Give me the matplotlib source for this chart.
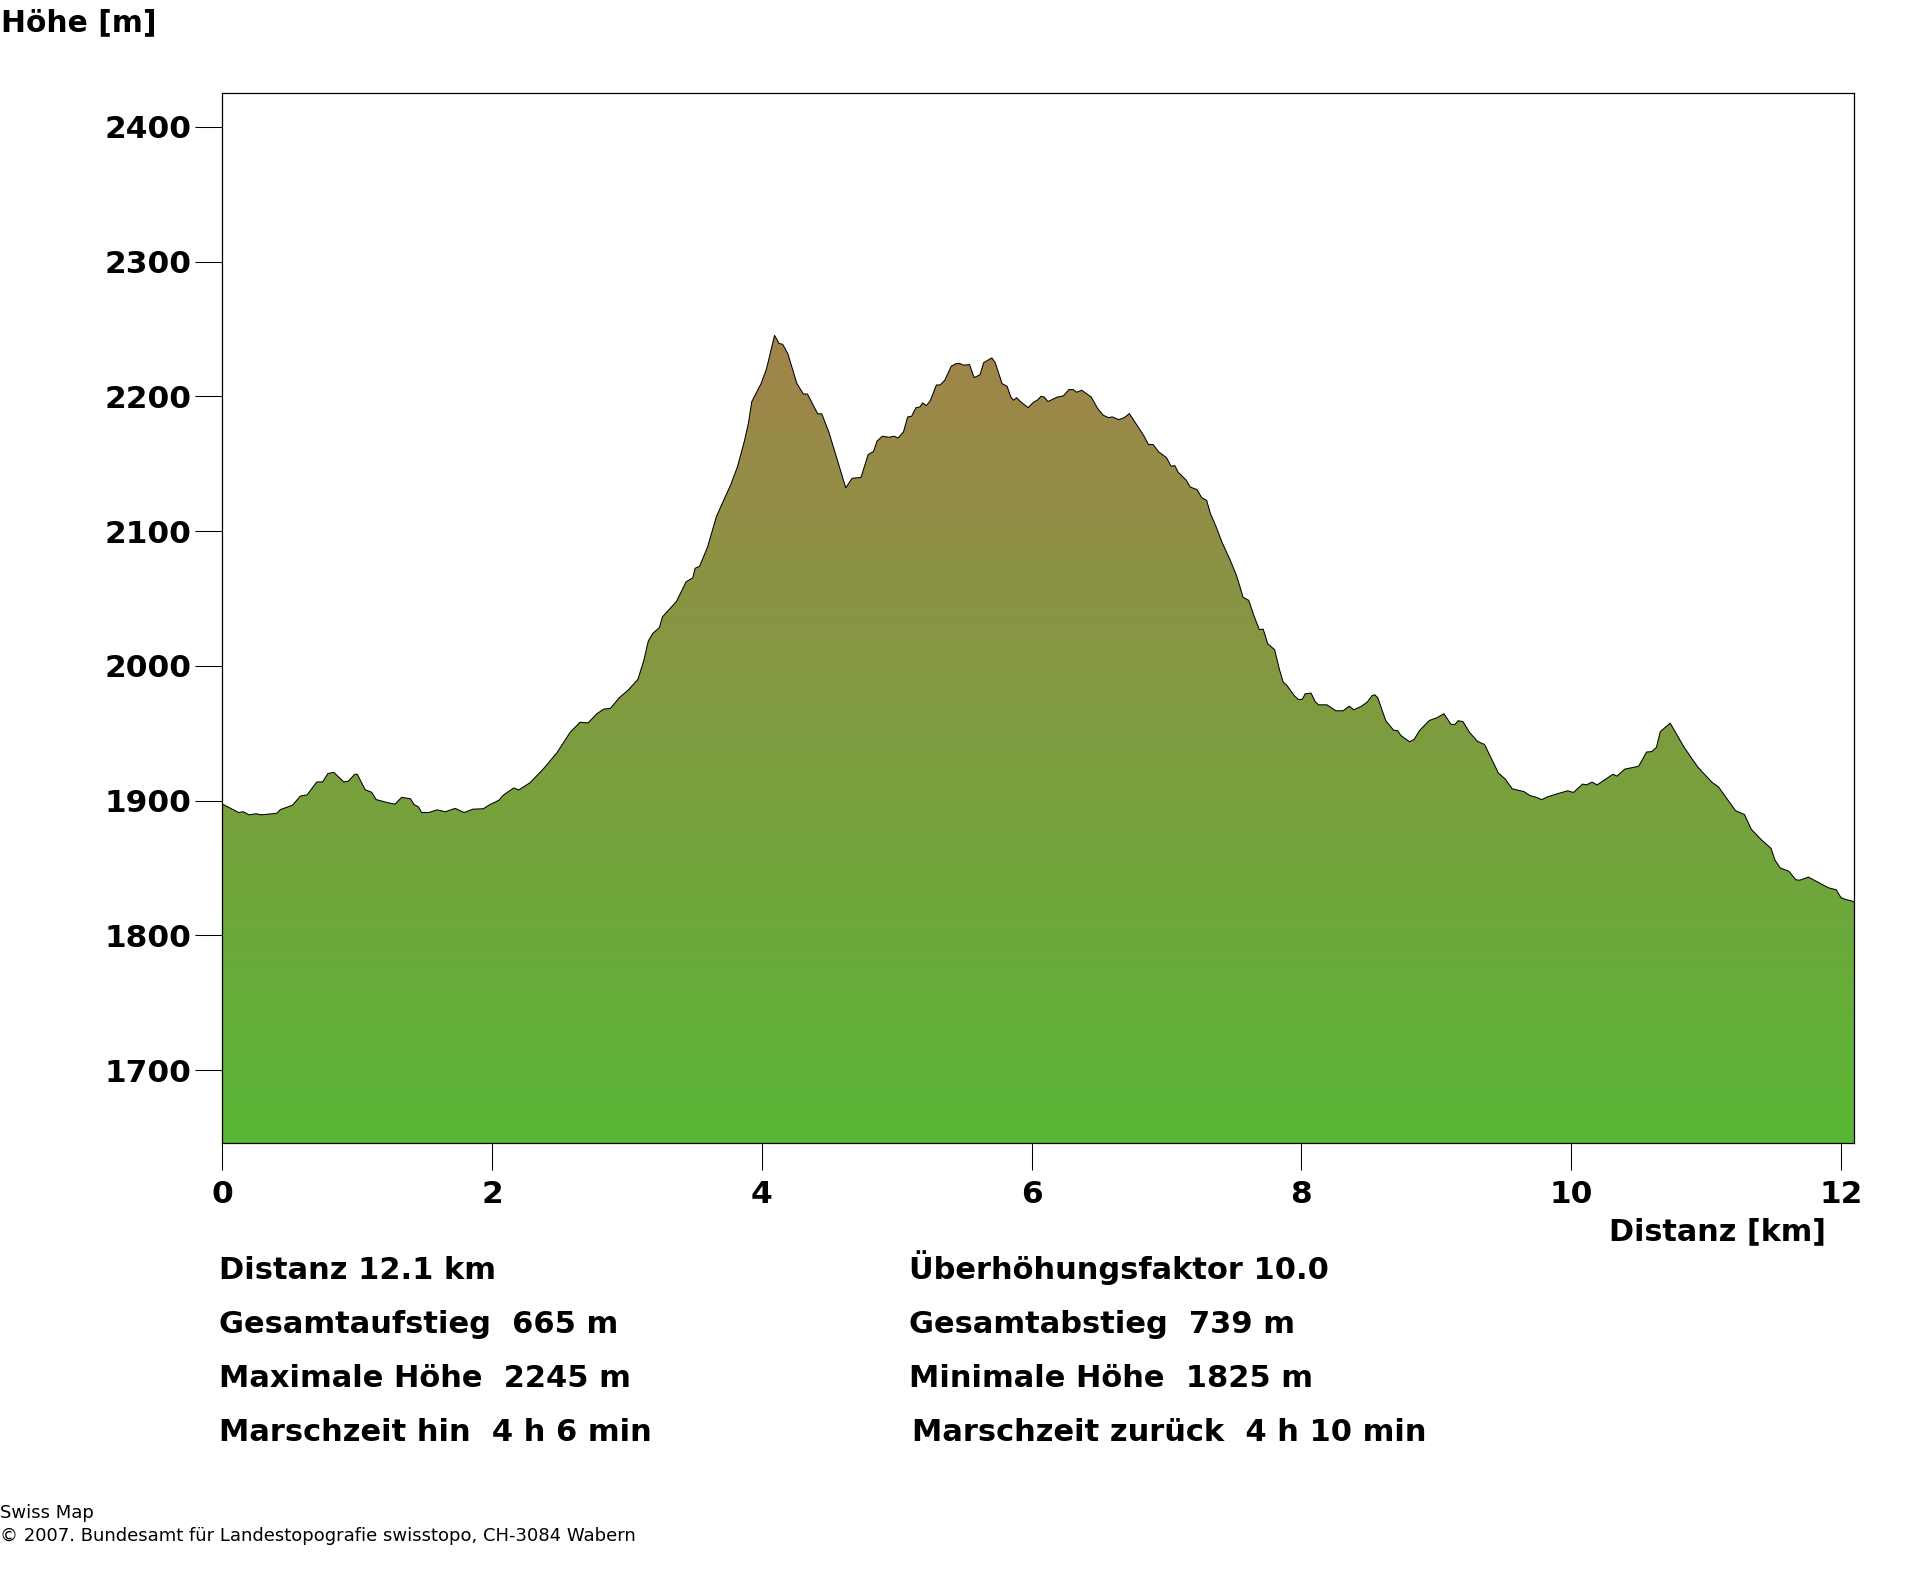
import matplotlib
matplotlib.use("Agg")
import matplotlib.pyplot as plt
import numpy as np
from matplotlib.colors import LinearSegmentedColormap

# profile: distance [km], height [m]
distance = [0.00, 0.05, 0.12, 0.155, 0.197, 0.25, 0.287, 0.403, 0.43, 0.519, 0.578, 0.628, 0.70, 0.743, 0.783, 0.826,
            0.90, 0.935, 0.981, 1.00, 1.058, 1.107, 1.14, 1.223, 1.28, 1.329, 1.395, 1.421, 1.454, 1.477, 1.53, 1.593,
            1.653, 1.726, 1.792, 1.858, 1.934, 1.984, 2.05, 2.082, 2.159, 2.198, 2.281, 2.38, 2.48, 2.579, 2.652, 2.711,
            2.777, 2.827, 2.877, 2.943, 3.009, 3.081, 3.125, 3.158, 3.191, 3.24, 3.263, 3.366, 3.439, 3.488, 3.505, 3.538,
            3.597, 3.663, 3.72, 3.769, 3.819, 3.869, 3.901, 3.925, 3.994, 4.034, 4.094, 4.127, 4.154, 4.193, 4.259, 4.308,
            4.338, 4.414, 4.444, 4.497, 4.622, 4.669, 4.735, 4.788, 4.828, 4.854, 4.894, 4.943, 4.98, 5.01, 5.05, 5.081,
            5.11, 5.143, 5.172, 5.192, 5.22, 5.248, 5.294, 5.322, 5.356, 5.404, 5.441, 5.469, 5.492, 5.54, 5.574, 5.617,
            5.645, 5.705, 5.73, 5.781, 5.818, 5.846, 5.866, 5.889, 5.917, 5.974, 6.014, 6.042, 6.07, 6.093, 6.121, 6.192,
            6.235, 6.277, 6.308, 6.334, 6.371, 6.442, 6.49, 6.532, 6.57, 6.598, 6.646, 6.688, 6.725, 6.83, 6.867, 6.901,
            6.943, 7.0, 7.034, 7.062, 7.085, 7.147, 7.176, 7.227, 7.261, 7.298, 7.326, 7.369, 7.411, 7.468, 7.519, 7.553,
            7.567, 7.61, 7.652, 7.689, 7.717, 7.751, 7.802, 7.836, 7.865, 7.893, 7.95, 7.978, 8.006, 8.029, 8.072, 8.105,
            8.128, 8.19, 8.256, 8.31, 8.355, 8.389, 8.446, 8.488, 8.525, 8.545, 8.567, 8.626, 8.685, 8.714, 8.738, 8.802,
            8.837, 8.875, 8.949, 9.007, 9.057, 9.11, 9.139, 9.162, 9.198, 9.247, 9.306, 9.359, 9.461, 9.511, 9.564, 9.651,
            9.695, 9.739, 9.783, 9.827, 9.901, 9.974, 10.018, 10.085, 10.114, 10.155, 10.193, 10.311, 10.34, 10.398, 10.501, 10.56,
            10.598, 10.633, 10.662, 10.735, 10.838, 10.94, 11.043, 11.093, 11.145, 11.219, 11.286, 11.336, 11.409, 11.482, 11.512, 11.55,
            11.614, 11.667, 11.696, 11.76, 11.907, 11.966, 12.001, 12.039, 12.10]
height = [1897.4, 1894.9, 1891.2, 1891.8, 1889.5, 1890.3, 1889.5, 1890.6, 1893.4, 1896.6, 1903.4, 1904.3, 1913.9, 1913.9, 1920.2, 1921,
          1913.9, 1914.5, 1919.6, 1919.6, 1908.2, 1906.2, 1900.8, 1898.6, 1897.4, 1902.5, 1901.4, 1897.1, 1895.4, 1891.2, 1891.2, 1893.2,
          1891.8, 1894.3, 1891.2, 1893.7, 1894, 1897.1, 1900.3, 1904, 1909.4, 1908, 1913.3, 1923.6, 1935.5, 1950.8, 1958.2, 1957.7,
          1964.5, 1967.9, 1968.5, 1976.4, 1982.1, 1990, 2004.2, 2018.5, 2024.1, 2028.4, 2036.4, 2047.7, 2062.5, 2065.3, 2072.4, 2073.9,
          2088.1, 2110.8, 2123.6, 2134.4, 2147.7, 2166.2, 2180.4, 2196, 2209.4, 2220.2, 2245.2, 2239.2, 2238.6, 2231.5, 2209.6, 2201.7,
          2201.7, 2187, 2187, 2173.3, 2132.1, 2139.2, 2139.8, 2156.8, 2159.1, 2166.8, 2170.4, 2169.6, 2170.4, 2169.1, 2173.6, 2184.7,
          2185.2, 2191.6, 2192.1, 2195.1, 2193.1, 2196.6, 2208.4, 2208.4, 2211.9, 2222.3, 2224.3, 2224.3, 2223.1, 2223.5, 2213.9, 2215.9,
          2225, 2228.5, 2225, 2209.4, 2207.5, 2199.5, 2197.1, 2199, 2196.1, 2191.6, 2195.6, 2197.1, 2200, 2199.5, 2196.1, 2199.5,
          2200.3, 2205, 2205, 2203, 2204.5, 2199.5, 2190.9, 2185.9, 2184.2, 2184.7, 2182.7, 2184.2, 2187.2, 2171.1, 2164.2, 2164.2,
          2158.7, 2154.5, 2148.1, 2148.6, 2143.9, 2137.7, 2132.7, 2130.7, 2124.8, 2122.8, 2112.9, 2103, 2091.9, 2079.5, 2067.1, 2056,
          2051, 2048.6, 2036.2, 2026.8, 2027.3, 2016.4, 2012, 1997.9, 1988, 1985.5, 1977.6, 1975.1, 1975.1, 1979.3, 1979.8, 1973.1,
          1971.1, 1971.1, 1966.7, 1966.7, 1970.1, 1967.4, 1970.1, 1973.1, 1978, 1978.5, 1976.3, 1959.3, 1952.2, 1951.9, 1948.4, 1943.7,
          1945.5, 1951.9, 1959.5, 1961.6, 1964.5, 1956.6, 1956.6, 1959.3, 1958.7, 1950.7, 1944, 1941.6, 1920.5, 1916.1, 1908.8, 1906.7,
          1903.8, 1902.6, 1900.8, 1902.9, 1905.2, 1907.3, 1906.1, 1912.3, 1911.7, 1913.8, 1911.7, 1919.6, 1918.2, 1923.4, 1925.5, 1936.1,
          1936.4, 1939.6, 1951.3, 1957.5, 1939.6, 1924.9, 1913.8, 1910.2, 1902.9, 1892.6, 1889.7, 1878.8, 1871.2, 1864.7, 1855.9, 1850.1,
          1847.7, 1841.3, 1841, 1843.3, 1835.4, 1833.9, 1828.1, 1826.6, 1825.1]

x_ticks = [0, 2, 4, 6, 8, 10, 12]
y_ticks = [1700, 1800, 1900, 2000, 2100, 2200, 2300, 2400]
left_stats = ["Distanz 12.1 km", "Gesamtaufstieg  665 m", "Maximale Höhe  2245 m", "Marschzeit hin  4 h 6 min"]
right_stats = ["Überhöhungsfaktor 10.0", "Gesamtabstieg  739 m", "Minimale Höhe  1825 m", "Marschzeit zurück  4 h 10 min"]

W, H = 1920, 1572
BOLD = "DejaVu Sans"
plt.rcParams["font.family"] = "DejaVu Sans"
XMAX = 12.1
YMIN, YMAX = 1645.8, 2424.8


def put_text(px, py, s, size, weight="bold", family=BOLD):
    # px, py = left end and baseline in image pixels
    fig.text(px / W, 1 - py / H, s, fontsize=size, fontweight=weight, family=family, ha="left", va="baseline")


fig = plt.figure(figsize=(W / 100, H / 100), dpi=100)
ax = fig.add_axes([222.4 / W, 1 - 1143.3 / H, (1854.3 - 222.4) / W, (1143.3 - 93.3) / H])

# colour runs from green at the foot to brown at the highest point
cmap = LinearSegmentedColormap.from_list("terrain_fill", ["#58b634", "#a2844b"])
grad = np.linspace(0, 1, 512).reshape(-1, 1)
img = ax.imshow(grad, cmap=cmap, aspect="auto", origin="lower", extent=[0, XMAX, YMIN, max(height)], zorder=1)
area = ax.fill_between(distance, height, YMIN, facecolor="none", edgecolor="none", zorder=1)
img.set_clip_path(area.get_paths()[0], transform=ax.transData)
ax.plot(distance, height, color="black", lw=0.75, zorder=2)
ax.set_xlim(0, XMAX)
ax.set_ylim(YMIN, YMAX)

for side in ax.spines.values():
    side.set_linewidth(0.9)
ax.set_xticks(x_ticks)
ax.set_yticks(y_ticks)
ax.tick_params(axis="both", length=19.2, width=0.75, labelsize=22.5)
ax.tick_params(axis="x", pad=7)
ax.tick_params(axis="y", pad=3)
for lab in ax.get_xticklabels() + ax.get_yticklabels():
    lab.set_fontweight("bold")
    lab.set_family(BOLD)

put_text(1, 31, "Höhe [m]", 21.4)
put_text(1609, 1240, "Distanz [km]", 21.8)

left_x = 219
right_x = [909, 909, 909, 912.5]
rows = [1279, 1333, 1387, 1441]
for s, py in zip(left_stats, rows):
    put_text(left_x, py, s, 22)
for s, px, py in zip(right_stats, right_x, rows):
    put_text(px, py, s, 22)

put_text(0, 1518, "Swiss Map", 13, weight="normal", family="DejaVu Sans")
put_text(0, 1541, "© 2007. Bundesamt für Landestopografie swisstopo, CH-3084 Wabern", 13, weight="normal", family="DejaVu Sans")

fig.savefig("out.png", dpi=100)
